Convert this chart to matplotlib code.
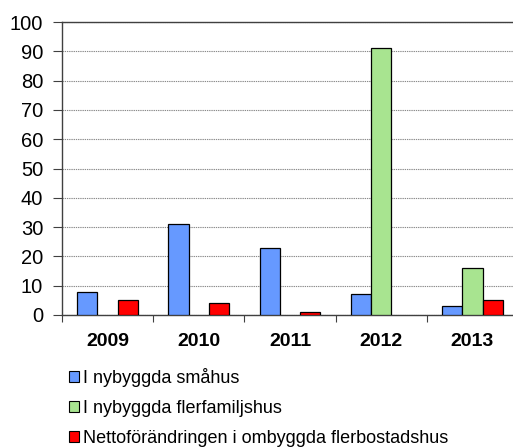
import matplotlib
matplotlib.use("Agg")
import matplotlib.pyplot as plt
import numpy as np
from matplotlib.patches import Patch

# ─── Data ─────────────────────────────────────────────────────────────────────
years = ["2009", "2010", "2011", "2012", "2013"]
smahus = [8, 31, 23, 7, 3]
flerfamiljshus = [0, 0, 0, 91, 16]
ombyggda = [5, 4, 1, 0, 5]
series_labels = ["I nybyggda småhus", "I nybyggda flerfamiljshus",
                 "Nettoförändringen i ombyggda flerbostadshus"]
colors = ["#6699FF", "#A8E490", "#FF0000"]

plt.rcParams["font.family"] = ["Liberation Sans", "DejaVu Sans"]

fig = plt.figure(figsize=(5.13, 4.48), dpi=100)
ax = fig.add_axes([62 / 513, 1 - 315 / 448, 456 / 513, 293 / 448])

x = np.arange(len(years))
w = 0.222
for i, vals in enumerate([smahus, flerfamiljshus, ombyggda]):
    vals = np.array(vals, dtype=float)
    mask = vals > 0
    ax.bar(x[mask] + (i - 1) * w, vals[mask], width=w, color=colors[i],
           edgecolor="black", linewidth=0.9, zorder=3)

ax.set_xlim(-0.5, len(years) - 0.5)
ax.set_ylim(0, 100)
ax.set_yticks(range(0, 101, 10))
ax.tick_params(axis="y", labelsize=14.5, length=6.5, width=0.8, pad=7,
               color="#404040")

# category labels in the middle, tick marks at the boundaries
ax.set_xticks(x)
ax.set_xticklabels(years, fontsize=14, fontweight="bold")
ax.tick_params(axis="x", which="major", length=0, pad=13)
ax.set_xticks(np.arange(-0.5, len(years), 1), minor=True)
ax.tick_params(axis="x", which="minor", length=5, width=0.8, color="#404040")

ax.yaxis.grid(True, color="#8a8a8a", linestyle=(0, (1.2, 0.8)), linewidth=0.8)
ax.set_axisbelow(True)
for side in ["left", "bottom", "top"]:
    ax.spines[side].set_color("#404040")
    ax.spines[side].set_linewidth(1.0)
ax.spines["right"].set_visible(False)

handles = [Patch(facecolor=c, edgecolor="black", linewidth=0.8) for c in colors]
fig.legend(handles, series_labels, loc="upper left",
           bbox_to_anchor=(69 / 513, 1 - 368 / 448), frameon=False,
           fontsize=13, handlelength=0.55, handleheight=0.55,
           handletextpad=0.25, labelspacing=0.72, borderpad=0, borderaxespad=0)

fig.savefig("out.png", dpi=100)
